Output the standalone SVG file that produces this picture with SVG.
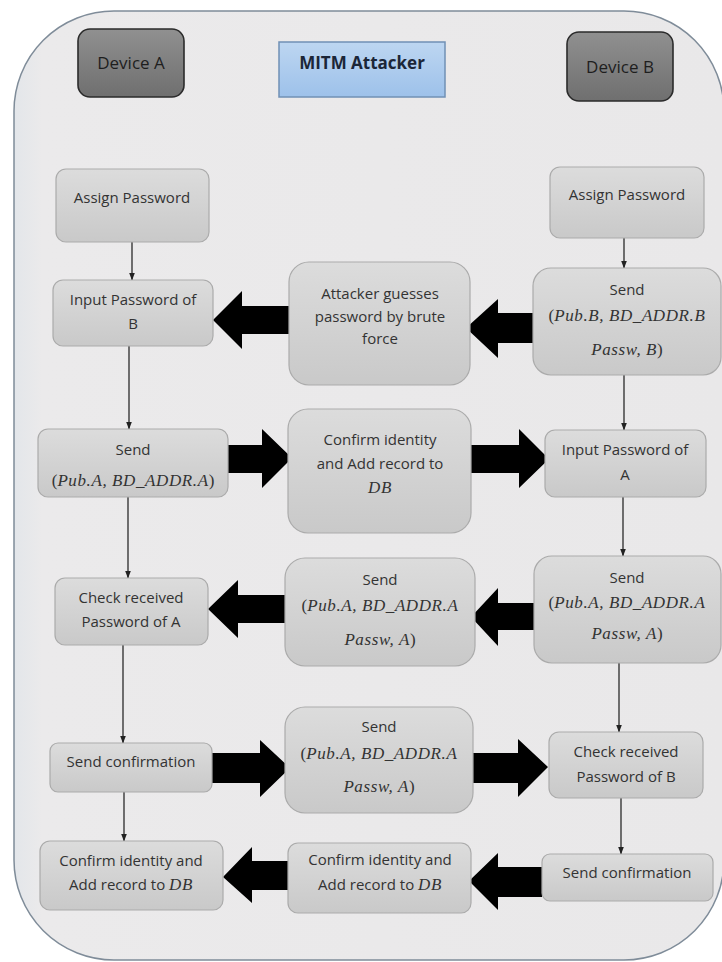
<svg xmlns="http://www.w3.org/2000/svg" width="722" height="962" viewBox="0 0 722 962">
  <defs>
    <linearGradient id="gNode" x1="0" y1="0" x2="0" y2="1">
      <stop offset="0" stop-color="#dcdcdc"/>
      <stop offset="1" stop-color="#c9c9c9"/>
    </linearGradient>
    <linearGradient id="gDevice" x1="0" y1="0" x2="0" y2="1">
      <stop offset="0" stop-color="#909090"/>
      <stop offset="1" stop-color="#6f6f6f"/>
    </linearGradient>
    <linearGradient id="gMitm" x1="0" y1="0" x2="0" y2="1">
      <stop offset="0" stop-color="#bdd6f1"/>
      <stop offset="1" stop-color="#9dc1ea"/>
    </linearGradient>
    <linearGradient id="gPanel" x1="0" y1="0" x2="1" y2="0">
      <stop offset="0" stop-color="#e3e6ea"/>
      <stop offset="0.04" stop-color="#ebeaeb"/>
      <stop offset="1" stop-color="#e9e8e9"/>
    </linearGradient>
    <marker id="tip" viewBox="0 0 8 8" refX="7.5" refY="4" markerWidth="8" markerHeight="8" markerUnits="userSpaceOnUse" orient="auto">
      <path d="M0,1 L8,4 L0,7 z" fill="#222"/>
    </marker>
  </defs>
  <style>
    .node { fill: url(#gNode); stroke: #ababab; stroke-width: 1.2; }
    .dev { fill: url(#gDevice); stroke: #2b2b2b; stroke-width: 1.6; }
    .mitm { fill: url(#gMitm); stroke: #7090b5; stroke-width: 1.5; }
    .t { font-family: "Open Sans", "DejaVu Sans", sans-serif; font-size: 15px; fill: #333; text-anchor: middle; }
    .dt { font-family: "Open Sans", "DejaVu Sans", sans-serif; font-size: 17px; fill: #1e1e1e; text-anchor: middle; }
    .mt { font-family: "Open Sans", "DejaVu Sans", sans-serif; font-size: 17px; font-weight: bold; fill: #1b2638; text-anchor: middle; }
    .m { font-family: "Liberation Serif", "DejaVu Serif", serif; font-style: italic; font-size: 17px; letter-spacing: 0.6px; }
    .u { font-family: "Liberation Serif", "DejaVu Serif", serif; font-style: normal; font-size: 17px; }
    .link { stroke: #2a2a2a; stroke-width: 1.3; fill: none; marker-end: url(#tip); }
    .big { fill: #000; }
  </style>

  <!-- surrounding panel -->
  <rect x="14" y="11" width="710" height="949" rx="100" ry="100" fill="url(#gPanel)" stroke="#7f8c99" stroke-width="1.5"/>

  <!-- headers -->
  <g id="device-a">
    <rect class="dev" x="78" y="29" width="106" height="68" rx="12"/>
    <text class="dt" x="131" y="69">Device A</text>
  </g>
  <g id="mitm-attacker">
    <rect class="mitm" x="279" y="42" width="166" height="55"/>
    <text class="mt" x="362" y="69">MITM Attacker</text>
  </g>
  <g id="device-b">
    <rect class="dev" x="567" y="32" width="106" height="69" rx="12"/>
    <text class="dt" x="620" y="73">Device B</text>
  </g>

  <!-- connectors -->
  <g id="connectors">
    <line class="link" x1="132" y1="242" x2="132" y2="280"/>
    <line class="link" x1="129" y1="346" x2="129" y2="429"/>
    <line class="link" x1="128" y1="497" x2="128" y2="578"/>
    <line class="link" x1="123" y1="645" x2="123" y2="743"/>
    <line class="link" x1="124" y1="792" x2="124" y2="841"/>
    <line class="link" x1="624" y1="238" x2="624" y2="268"/>
    <line class="link" x1="624" y1="375" x2="624" y2="430"/>
    <line class="link" x1="623" y1="497" x2="623" y2="556"/>
    <line class="link" x1="619" y1="663" x2="619" y2="732"/>
    <line class="link" x1="621" y1="798" x2="621" y2="854"/>

    <polygon class="big" points="289,306 242,306 242,291 213,320 242,349 242,334 289,334"/>
    <polygon class="big" points="533,313 498,313 498,299 466,328 498,358 498,343 533,343"/>
    <polygon class="big" points="228,445 262,445 262,429 292,458 262,488 262,473 228,473"/>
    <polygon class="big" points="471,445 519,445 519,429 549,459 519,488 519,473 471,473"/>
    <polygon class="big" points="285,595 238,595 238,580 208,609 238,638 238,623 285,623"/>
    <polygon class="big" points="534,603 498,603 498,588 471,617 498,646 498,630 534,630"/>
    <polygon class="big" points="212,753 260,753 260,740 290,768 260,797 260,783 212,783"/>
    <polygon class="big" points="473,753 518,753 518,739 548,767 518,797 518,783 473,783"/>
    <polygon class="big" points="288,861 252,861 252,847 223,877 252,903 252,890 288,890"/>
    <polygon class="big" points="542,867 498,867 498,853 469,881 498,910 498,897 542,897"/>
  </g>

  <!-- Device A column -->
  <g id="assign-a">
    <rect class="node" x="56" y="169" width="153" height="73" rx="10"/>
    <text class="t" x="132" y="203">Assign Password</text>
  </g>
  <g id="input-b">
    <rect class="node" x="53" y="280" width="160" height="66" rx="10"/>
    <text class="t" x="133" y="305">Input Password of</text>
    <text class="t" x="133" y="329">B</text>
  </g>
  <g id="send-a">
    <rect class="node" x="38" y="429" width="190" height="68" rx="10"/>
    <text class="t" x="133" y="455">Send</text>
    <text class="t" x="133" y="486"><tspan class="u">(</tspan><tspan class="m">Pub.A, BD_ADDR.A</tspan><tspan class="u">)</tspan></text>
  </g>
  <g id="check-a">
    <rect class="node" x="55" y="578" width="153" height="67" rx="10"/>
    <text class="t" x="131" y="603">Check received</text>
    <text class="t" x="131" y="627">Password of A</text>
  </g>
  <g id="confirm-send-a">
    <rect class="node" x="50" y="743" width="162" height="49" rx="8"/>
    <text class="t" x="131" y="767">Send confirmation</text>
  </g>
  <g id="record-a">
    <rect class="node" x="40" y="841" width="183" height="69" rx="10"/>
    <text class="t" x="131" y="866">Confirm identity and</text>
    <text class="t" x="131" y="890">Add record to <tspan class="m">DB</tspan></text>
  </g>

  <!-- attacker column -->
  <g id="brute-force">
    <rect class="node" x="289" y="262" width="181" height="123" rx="20"/>
    <text class="t" x="380" y="299">Attacker guesses</text>
    <text class="t" x="380" y="322">password by brute</text>
    <text class="t" x="380" y="344">force</text>
  </g>
  <g id="record-mitm">
    <rect class="node" x="288" y="409" width="183" height="124" rx="20"/>
    <text class="t" x="380" y="445">Confirm identity</text>
    <text class="t" x="380" y="469">and Add record to</text>
    <text class="t" x="380" y="493"><tspan class="m">DB</tspan></text>
  </g>
  <g id="relay-to-a">
    <rect class="node" x="285" y="558" width="190" height="108" rx="20"/>
    <text class="t" x="380" y="585">Send</text>
    <text class="t" x="380" y="611"><tspan class="u">(</tspan><tspan class="m">Pub.A, BD_ADDR.A</tspan></text>
    <text class="t" x="380" y="645"><tspan class="m">Passw, A</tspan><tspan class="u">)</tspan></text>
  </g>
  <g id="relay-to-b">
    <rect class="node" x="285" y="707" width="188" height="106" rx="20"/>
    <text class="t" x="379" y="732">Send</text>
    <text class="t" x="379" y="759"><tspan class="u">(</tspan><tspan class="m">Pub.A, BD_ADDR.A</tspan></text>
    <text class="t" x="379" y="792"><tspan class="m">Passw, A</tspan><tspan class="u">)</tspan></text>
  </g>
  <g id="record-relay">
    <rect class="node" x="288" y="843" width="183" height="70" rx="10"/>
    <text class="t" x="380" y="865">Confirm identity and</text>
    <text class="t" x="380" y="890">Add record to <tspan class="m">DB</tspan></text>
  </g>

  <!-- Device B column -->
  <g id="assign-b">
    <rect class="node" x="550" y="167" width="154" height="71" rx="10"/>
    <text class="t" x="627" y="200">Assign Password</text>
  </g>
  <g id="send-b">
    <rect class="node" x="533" y="268" width="188" height="107" rx="18"/>
    <text class="t" x="627" y="295">Send</text>
    <text class="t" x="627" y="321"><tspan class="u">(</tspan><tspan class="m">Pub.B, BD_ADDR.B</tspan></text>
    <text class="t" x="627" y="355"><tspan class="m">Passw, B</tspan><tspan class="u">)</tspan></text>
  </g>
  <g id="input-a">
    <rect class="node" x="545" y="430" width="161" height="67" rx="10"/>
    <text class="t" x="625" y="455">Input Password of</text>
    <text class="t" x="625" y="480">A</text>
  </g>
  <g id="send-b-passw">
    <rect class="node" x="534" y="556" width="187" height="107" rx="18"/>
    <text class="t" x="627" y="583">Send</text>
    <text class="t" x="627" y="608"><tspan class="u">(</tspan><tspan class="m">Pub.A, BD_ADDR.A</tspan></text>
    <text class="t" x="627" y="639"><tspan class="m">Passw, A</tspan><tspan class="u">)</tspan></text>
  </g>
  <g id="check-b">
    <rect class="node" x="549" y="732" width="154" height="66" rx="10"/>
    <text class="t" x="626" y="757">Check received</text>
    <text class="t" x="626" y="782">Password of B</text>
  </g>
  <g id="confirm-send-b">
    <rect class="node" x="542" y="854" width="171" height="47" rx="8"/>
    <text class="t" x="627" y="878">Send confirmation</text>
  </g>
</svg>
